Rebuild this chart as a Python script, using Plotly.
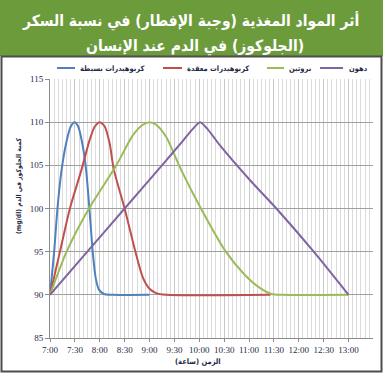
import plotly.graph_objects as go
import pandas as pd

# ---- data (minutes after 07:00, blood glucose mg/dl) ----
simple_t = [0, 5, 9, 14, 20, 25, 29.5, 34, 39, 43.5, 47.5, 51.5, 55, 59, 65, 75, 120]
simple_v = [90, 95, 100, 104.5, 107.8, 109.5, 110, 109.5, 107.5, 104.5, 100, 95, 92, 90.6, 90.1, 90, 90]

complex_t = [0, 12, 24, 38, 48, 54, 60, 66, 72, 77, 90, 103, 112, 120, 128, 140, 266]
complex_v = [90, 95, 100, 104.5, 108, 109.5, 110, 109.5, 107.5, 104.5, 100, 95, 92, 90.7, 90.2, 90, 90]

protein_t = [0, 20, 47, 80, 100, 112, 120, 128, 140, 158, 182, 212, 235, 253, 267, 280, 360]
protein_v = [90, 95, 100, 105, 108.5, 109.7, 110, 109.7, 108.3, 104.5, 100, 95, 92.3, 90.8, 90.1, 90, 90]

fat_t = [0, 45, 90, 135, 160, 172, 181, 190, 205, 241, 273, 318, 360]
fat_v = [90, 95, 100, 105, 107.8, 109.2, 110, 109.2, 107.3, 103.3, 100, 95, 90]

series_names = ["كربوهيدرات بسيطة", "كربوهيدرات معقدة", "بروتين", "دهون"]
series_colors = ["#4F81BD", "#C0504D", "#9BBB59", "#8064A2"]

title_lines = ["أثر المواد المغذية (وجبة الإفطار) في نسبة السكر", "(الجلوكوز) في الدم عند الإنسان"]
y_title = "كمية الجلوكوز في الدم (mg/dl)"
x_title = "الزمن (ساعة)"

base = pd.Timestamp("2024-01-01 07:00")


def to_time(mins):
    return [base + pd.Timedelta(minutes=m) for m in mins]


def rtl(s):
    # right-to-left embedding so neutral characters (brackets) are ordered correctly
    return "\u202b" + s + "\u202c"


fig = go.Figure()
for t, v, name, color in zip(
    [simple_t, complex_t, protein_t, fat_t],
    [simple_v, complex_v, protein_v, fat_v],
    series_names, series_colors,
):
    fig.add_trace(go.Scatter(
        x=to_time(t), y=v, name=name, mode="lines", showlegend=False,
        line=dict(color=color, width=2, shape="spline", smoothing=0.7),
    ))

W, H = 383, 373
L, R, T, B = 50, 10, 79, 35
pw, ph = W - L - R, H - T - B


def px_x(px):
    return (px - L) / pw


def px_y(py):
    return (H - B - py) / ph


COND = "DejaVu Sans Condensed, DejaVu Sans"
TXT = "#1f2a44"

# legend key positions (pixels): line start, line end, text start
legend_pos = [(57, 75, 78), (163, 182, 185), (267, 284, 287), (320, 343, 347)]
legend_y = 68

shapes = [
    dict(type="rect", xref="paper", yref="paper",
         x0=px_x(-5), x1=px_x(W + 5), y0=px_y(56), y1=px_y(-5),
         fillcolor="#6B9B3B", line=dict(width=0), layer="below"),
    dict(type="rect", xref="paper", yref="paper",
         x0=px_x(1.5), x1=px_x(381.5), y0=px_y(371.5), y1=px_y(56.5),
         fillcolor="rgba(0,0,0,0)", line=dict(color="#4d4d4d", width=2), layer="above"),
]
title_font = dict(family=COND, size=15.5, color="white", weight="bold")
annotations = [
    dict(text=rtl(title_lines[0]), xref="paper", yref="paper", x=px_x(190), y=px_y(21),
         showarrow=False, xanchor="center", yanchor="middle", font=title_font),
    dict(text=rtl(title_lines[1]), xref="paper", yref="paper", x=px_x(195), y=px_y(46),
         showarrow=False, xanchor="center", yanchor="middle", font=title_font),
    dict(text=rtl(y_title), xref="paper", yref="paper", x=px_x(19), y=px_y(186),
         textangle=-90, showarrow=False, xanchor="center", yanchor="middle",
         font=dict(family=COND, size=6.8, color=TXT, weight="bold")),
    dict(text=rtl(x_title), xref="paper", yref="paper", x=px_x(198), y=px_y(361),
         showarrow=False, xanchor="center", yanchor="middle",
         font=dict(family=COND, size=7.5, color=TXT, weight="bold")),
]
for (x0, x1, xt), name, color in zip(legend_pos, series_names, series_colors):
    shapes.append(dict(type="line", xref="paper", yref="paper",
                       x0=px_x(x0), x1=px_x(x1), y0=px_y(legend_y), y1=px_y(legend_y),
                       line=dict(color=color, width=2)))
    annotations.append(dict(text=name, xref="paper", yref="paper", x=px_x(xt), y=px_y(legend_y),
                            showarrow=False, xanchor="left", yanchor="middle",
                            font=dict(family=COND, size=7.5, color=TXT, weight="bold")))

fig.update_layout(
    width=W, height=H,
    margin=dict(l=L, r=R, t=T, b=B),
    paper_bgcolor="white", plot_bgcolor="white",
    font=dict(family="DejaVu Sans", color=TXT),
    showlegend=False,
    shapes=shapes,
    annotations=annotations,
)

fig.update_xaxes(
    type="date",
    range=[base, base + pd.Timedelta(minutes=389.5)],
    tick0=base, dtick=30 * 60 * 1000, tickformat="%-H:%M",
    tickfont=dict(family="Liberation Serif", size=9, color=TXT),
    showgrid=True, gridcolor="#c8c8c8", gridwidth=1,
    minor=dict(dtick=5 * 60 * 1000, tick0=base, showgrid=True, gridcolor="#dcdcdc", gridwidth=1),
    showline=True, linecolor="#8c8c8c", linewidth=1,
    ticks="outside", ticklen=3, tickcolor="#8c8c8c",
    zeroline=False, fixedrange=True,
)
fig.update_yaxes(
    range=[85, 115], tick0=85, dtick=5,
    tickfont=dict(family="Liberation Serif", size=9, color=TXT),
    showgrid=True, gridcolor="#a0a0a0", gridwidth=1,
    showline=True, linecolor="#8c8c8c", linewidth=1,
    ticks="outside", ticklen=4, tickcolor="#8c8c8c",
    zeroline=False, fixedrange=True,
)

fig.write_html("out.html", config={"displayModeBar": False},
               post_script="document.body.style.margin='0';")
